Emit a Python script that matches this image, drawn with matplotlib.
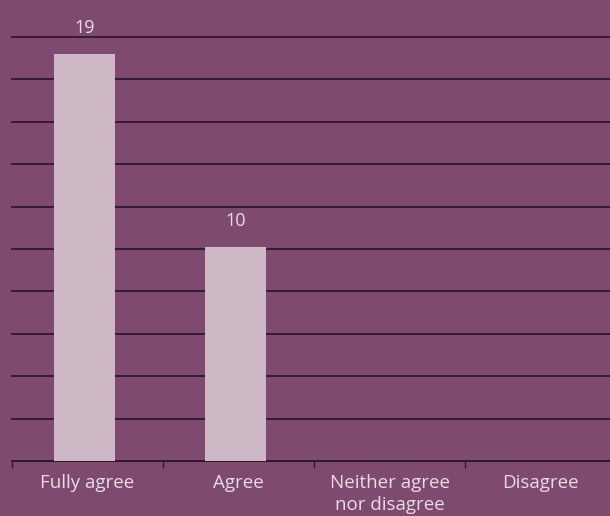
import numpy as np
import matplotlib.pyplot as plt

# Survey answers
categories = ['Fully agree', 'Agree', 'Neither agree\nnor disagree', 'Disagree']
counts = [19, 10, 0, 0]
y_max = 19.8
n_grid = 10

bg = '#7f4a6f'
bar_color = '#cfb8c6'
text_color = '#e8dce4'
line_color = '#2e1a29'

plt.rcParams['font.family'] = ['Open Sans', 'DejaVu Sans']

fig = plt.figure(figsize=(6.1, 5.16), dpi=100, facecolor=bg)
ax = fig.add_axes([12 / 610, 55 / 516, 604 / 610, 424 / 516], facecolor=bg)

x = np.arange(len(categories))
# bars sit a touch left of the category centre in the original
ax.bar(x - 0.02, counts, width=0.4, color=bar_color, zorder=3)

for xi, v in zip(x, counts):
    if v > 0:
        ax.annotate(str(v), (xi - 0.02, v), xytext=(0, 12), textcoords='offset points',
                    ha='center', va='bottom', color=text_color, fontsize=13)

ax.set_xlim(-0.5, len(categories) - 0.5)
ax.set_ylim(0, y_max)
ax.set_yticks(np.linspace(0, y_max, n_grid + 1))
ax.yaxis.grid(True, color=line_color, linewidth=1.3, zorder=0)
for gl in ax.get_ygridlines():
    gl.set_clip_on(False)
ax.tick_params(axis='y', length=0, labelleft=False)

ax.set_xticks(x)
ax.set_xticklabels(categories, color=text_color, fontsize=13.5, linespacing=1.35)
ax.set_xticks(np.arange(len(categories)) - 0.5, minor=True)
ax.tick_params(axis='x', which='major', length=0, pad=9)
ax.tick_params(axis='x', which='minor', length=5, color=line_color, width=1)

for s in ['top', 'right', 'left']:
    ax.spines[s].set_visible(False)
ax.spines['bottom'].set_color(line_color)
ax.spines['bottom'].set_linewidth(1.3)

fig.savefig('out.png', dpi=100, facecolor=bg)
